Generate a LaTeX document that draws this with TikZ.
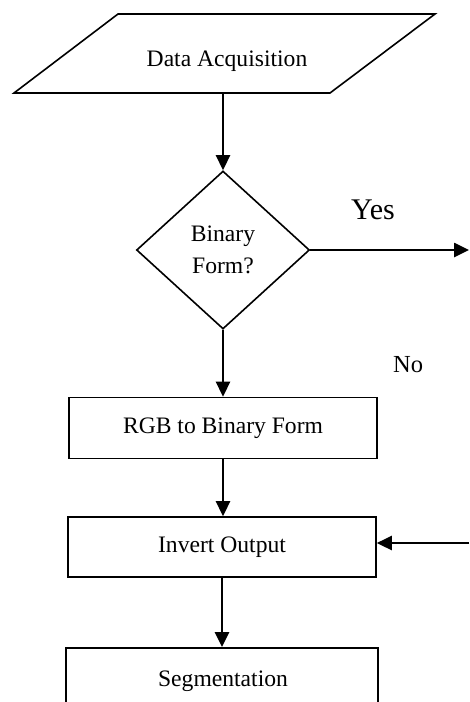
\documentclass[tikz,border=0pt]{standalone}
\usepackage{fontspec}
\setmainfont{Liberation Serif}
\usetikzlibrary{shapes.geometric,arrows.meta}
\begin{document}
\begin{tikzpicture}[x=1pt,y=-1pt,
  shapeline/.style={draw,line width=1.6pt},
  txt/.style={font=\fontsize{23.6}{32}\selectfont,inner sep=0pt},
  box/.style={shapeline,txt,minimum width=308pt,minimum height=61pt},
  decision/.style={shapeline,txt,diamond,aspect=1.095,minimum width=173pt,minimum height=158pt,align=center},
  arr/.style={line width=2.6pt,-{Triangle[length=15pt,width=14pt]}}]
\fill[white] (0,0) rectangle (469,702);
\clip (0,0) rectangle (469,702);
% input parallelogram
\draw[shapeline] (118,14) -- (435,14) -- (330,93) -- (14,93) -- cycle;
\node[txt,anchor=base] (acq) at (227,66) {Data Acquisition};
\coordinate (acqb) at (223,93);
% decision
\node[decision] (dia) at (223,250) {Binary\\Form?};
% process boxes
\node[box] (rgb) at (223,428) {RGB to Binary Form};
\node[box,minimum height=60pt] (inv) at (222,547) {Invert Output};
\node[shapeline,minimum width=312pt,minimum height=90pt,inner sep=0pt,anchor=north] (seg) at (222,647) {};
\node[txt,anchor=base] (segt) at (223,686) {Segmentation};
% labels
\node[font=\fontsize{30}{36}\selectfont,inner sep=0pt,anchor=base] (yes) at (373,219) {Yes};
\node[font=\fontsize{24.5}{30}\selectfont,inner sep=0pt,anchor=base west] (no) at (393,372) {No};
% free ends
\coordinate (yesend) at (469,250);
\coordinate (invin) at (469,543);
% connectors
\draw[arr] (acqb) -- (dia.north);
\draw[arr] (dia.east) -- (dia.east -| yesend);
\draw[arr] (dia.south) -- (rgb.north -| dia.south);
\draw[arr] (rgb.south) -- (inv.north -| rgb.south);
\draw[arr] (inv.south) -- (seg.north -| inv.south);
\draw[arr] (invin) -- (inv.east |- invin);
\end{tikzpicture}
\end{document}
